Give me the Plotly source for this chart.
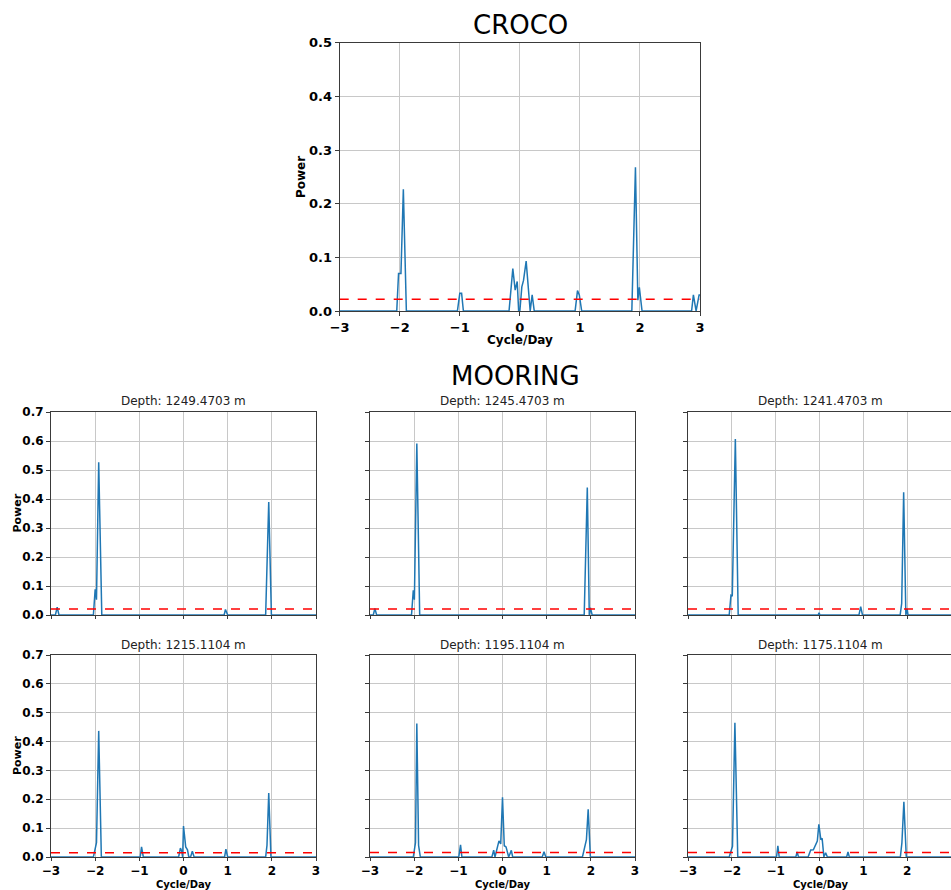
import plotly.graph_objects as go

# ---------------- data ----------------
croco_f = [-3.0, -2.05, -2.02, -1.98, -1.94, -1.89, -1.04, -1.0, -0.97, -0.94,
           -0.18, -0.117, -0.078, -0.044, -0.02, 0.0, 0.033, 0.061, 0.105, 0.172,
           0.205, 0.24, 0.92, 0.96, 0.99, 1.03, 1.865, 1.925, 1.965, 1.99, 2.035,
           2.86, 2.89, 2.935, 2.985, 3.0]
croco_p = [0.0, 0.0, 0.07, 0.07, 0.227, 0.0, 0.0, 0.033, 0.033, 0.0,
           0.0, 0.079, 0.039, 0.055, 0.0, 0.0, 0.045, 0.057, 0.093, 0.0,
           0.03, 0.0, 0.0, 0.038, 0.03, 0.0, 0.0, 0.268, 0.02, 0.044, 0.0,
           0.0, 0.03, 0.0, 0.03, 0.03]
croco_thr = 0.0217

depths = ["1249.4703", "1245.4703", "1241.4703", "1215.1104", "1195.1104", "1175.1104"]

m1_f = [-3.0, -2.9, -2.86, -2.82, -2.04, -2.0, -1.97, -1.92, -1.85, 0.92, 0.95, 1.0,
        1.86, 1.93, 1.99, 3.0]
m1_p = [0.0, 0.0, 0.027, 0.0, 0.0, 0.089, 0.053, 0.527, 0.0, 0.0, 0.019, 0.0,
        0.0, 0.39, 0.0, 0.0]

m2_f = [-3.0, -2.925, -2.89, -2.85, -2.06, -2.02, -1.995, -1.94, -1.875,
        1.85, 1.92, 1.965, 1.99, 2.03, 3.0]
m2_p = [0.0, 0.0, 0.023, 0.0, 0.0, 0.085, 0.053, 0.591, 0.0,
        0.0, 0.44, 0.0, 0.025, 0.0, 0.0]

m3_f = [-3.0, -2.06, -2.02, -1.99, -1.92, -1.855, -0.03, -0.01, 0.01, 0.9, 0.94, 0.98,
        1.84, 1.875, 1.92, 1.97, 2.0, 2.02, 3.0]
m3_p = [0.0, 0.0, 0.068, 0.065, 0.607, 0.0, 0.0, 0.008, 0.0, 0.0, 0.029, 0.0,
        0.0, 0.04, 0.423, 0.0, 0.02, 0.0, 0.0]

m4_f = [-3.0, -2.04, -1.97, -1.92, -1.86, -0.98, -0.95, -0.91,
        -0.11, -0.07, -0.04, -0.02, 0.0, 0.05, 0.09, 0.12, 0.16, 0.2, 0.24,
        0.93, 0.96, 1.0, 1.86, 1.89, 1.93, 1.98, 3.0]
m4_p = [0.0, 0.0, 0.05, 0.437, 0.0, 0.0, 0.035, 0.0,
        0.0, 0.031, 0.02, 0.0, 0.107, 0.035, 0.025, 0.0, 0.0, 0.02, 0.0,
        0.0, 0.027, 0.0, 0.0, 0.04, 0.222, 0.0, 0.0]

m5_f = [-3.0, -2.02, -1.97, -1.94, -1.9, -1.86, -0.99, -0.95, -0.92,
        -0.24, -0.2, -0.17, -0.08, -0.04, 0.0, 0.04, 0.08, 0.14, 0.2, 0.23,
        0.9, 0.94, 0.98, 1.81, 1.9, 1.94, 1.99, 3.0]
m5_p = [0.0, 0.0, 0.05, 0.463, 0.04, 0.0, 0.0, 0.042, 0.0,
        0.0, 0.024, 0.0, 0.056, 0.045, 0.207, 0.039, 0.035, 0.0, 0.023, 0.0,
        0.0, 0.018, 0.0, 0.0, 0.06, 0.165, 0.0, 0.0]

m6_f = [-3.0, -2.06, -1.985, -1.93, -1.865, -0.98, -0.95, -0.92, -0.54, -0.51, -0.48,
        -0.26, -0.2, -0.14, -0.05, -0.015, 0.03, 0.06, 0.1, 0.14, 0.18,
        0.62, 0.65, 0.68, 1.845, 1.88, 1.925, 1.98, 3.0]
m6_p = [0.0, 0.0, 0.037, 0.465, 0.0, 0.0, 0.039, 0.0, 0.0, 0.018, 0.0,
        0.0, 0.024, 0.025, 0.055, 0.113, 0.06, 0.065, 0.0, 0.015, 0.0,
        0.0, 0.018, 0.0, 0.0, 0.05, 0.191, 0.0, 0.0]

mooring_thr = [0.0206, 0.021, 0.021, 0.015, 0.016, 0.016]

x_ticks = [-3, -2, -1, 0, 1, 2, 3]
croco_yticks = [0.0, 0.1, 0.2, 0.3, 0.4, 0.5]
mooring_yticks = [0.0, 0.1, 0.2, 0.3, 0.4, 0.5, 0.6, 0.7]

# ---------------- figure ----------------
W, H = 951, 890
BLUE = "#1f77b4"
FONT = "DejaVu Sans"

def px_x(a, b):
    return [a / W, min(b / W, 1.0)]

def px_y(top, bottom):
    return [1 - bottom / H, 1 - top / H]

fig = go.Figure()

panels = [
    (croco_f, croco_p, croco_thr, px_x(339.7, 700), px_y(42.7, 311), [0, 0.5], croco_yticks, True, True),
]
mooring_data = [(m1_f, m1_p), (m2_f, m2_p), (m3_f, m3_p), (m4_f, m4_p), (m5_f, m5_p), (m6_f, m6_p)]
col_x = [(51, 316), (370, 635), (688, 953)]
row_y = [(412, 615), (655, 857)]
for i, (f, p) in enumerate(mooring_data):
    r, c = divmod(i, 3)
    panels.append((f, p, mooring_thr[i], px_x(*col_x[c]), px_y(*row_y[r]), [0, 0.7],
                   mooring_yticks, r == 1, c == 0))

layout = dict(
    width=W, height=H, margin=dict(l=0, r=0, t=0, b=0),
    paper_bgcolor="white", plot_bgcolor="white", showlegend=False,
    font=dict(family=FONT, color="black"),
)
annotations = []

for k, (f, p, thr, xd, yd, yr, yt, show_xl, show_yl) in enumerate(panels):
    n = "" if k == 0 else str(k + 1)
    xa, ya = "x" + n, "y" + n
    fig.add_trace(go.Scatter(x=f, y=p, mode="lines", line=dict(color=BLUE, width=1.5),
                             xaxis=xa, yaxis=ya, hoverinfo="skip"))
    fig.add_trace(go.Scatter(x=[-3, 3], y=[thr, thr], mode="lines",
                             line=dict(color="red", width=1.5, dash="dash"),
                             xaxis=xa, yaxis=ya, hoverinfo="skip"))
    tsize = 13 if k == 0 else 12
    layout["xaxis" + n] = dict(
        domain=xd, anchor=ya, range=[-3, 3], tickvals=x_ticks,
        ticktext=[str(v).replace("-", "\u2212") for v in x_ticks] if show_xl else [""] * len(x_ticks),
        showgrid=True, gridcolor="#c8c8c8", gridwidth=1,
        showline=True, mirror=True, linecolor="#3a3a3a", linewidth=1,
        ticks="outside", ticklen=4 if k == 0 else 3, tickcolor="#3a3a3a",
        tickfont=dict(family=FONT, size=tsize, color="black", weight="bold"),
        zeroline=False, automargin=False, fixedrange=True,
    )
    layout["yaxis" + n] = dict(
        domain=yd, anchor=xa, range=yr, tickvals=yt,
        ticktext=[f"{v:.1f}" for v in yt] if show_yl else [""] * len(yt),
        showgrid=True, gridcolor="#c8c8c8", gridwidth=1,
        showline=True, mirror=True, linecolor="#3a3a3a", linewidth=1,
        ticks="outside", ticklen=4, tickcolor="#3a3a3a",
        tickfont=dict(family=FONT, size=tsize, color="black", weight="bold"),
        zeroline=False, automargin=False, fixedrange=True,
    )

# titles
annotations.append(dict(text="CROCO", x=520 / W, y=1 - 25 / H, xref="paper", yref="paper",
                        showarrow=False, font=dict(family=FONT, size=26, color="black"),
                        xanchor="center", yanchor="middle"))
annotations.append(dict(text="MOORING", x=515 / W, y=1 - 376 / H, xref="paper", yref="paper",
                        showarrow=False, font=dict(family=FONT, size=26, color="black"),
                        xanchor="center", yanchor="middle"))
# croco axis titles
annotations.append(dict(text="<b>Cycle/Day</b>", x=520 / W, y=1 - 340 / H, xref="paper", yref="paper",
                        showarrow=False, font=dict(family=FONT, size=12, color="black"),
                        xanchor="center", yanchor="middle"))
annotations.append(dict(text="<b>Power</b>", x=301 / W, y=1 - 177 / H, xref="paper", yref="paper",
                        showarrow=False, textangle=-90, font=dict(family=FONT, size=12, color="black"),
                        xanchor="center", yanchor="middle"))
# mooring subplot titles and axis titles
for i, d in enumerate(depths):
    r, c = divmod(i, 3)
    cx = (col_x[c][0] + col_x[c][1]) / 2
    ty = 401 if r == 0 else 645
    annotations.append(dict(text=f"Depth: {d} m", x=cx / W, y=1 - ty / H, xref="paper", yref="paper",
                            showarrow=False, font=dict(family=FONT, size=12, color="#222222"),
                            xanchor="center", yanchor="middle"))
    if r == 1:
        annotations.append(dict(text="<b>Cycle/Day</b>", x=cx / W, y=1 - 878 / H, xref="paper", yref="paper",
                                showarrow=False, font=dict(family=FONT, size=10, color="black"),
                                xanchor="center", yanchor="top", borderpad=0))
    if c == 0:
        cy = (row_y[r][0] + row_y[r][1]) / 2
        annotations.append(dict(text="<b>Power</b>", x=17 / W, y=1 - cy / H, xref="paper", yref="paper",
                                showarrow=False, textangle=-90, font=dict(family=FONT, size=11, color="black"),
                                xanchor="center", yanchor="middle"))

layout["annotations"] = annotations
fig.update_layout(**layout)
fig.write_html("out.html")
